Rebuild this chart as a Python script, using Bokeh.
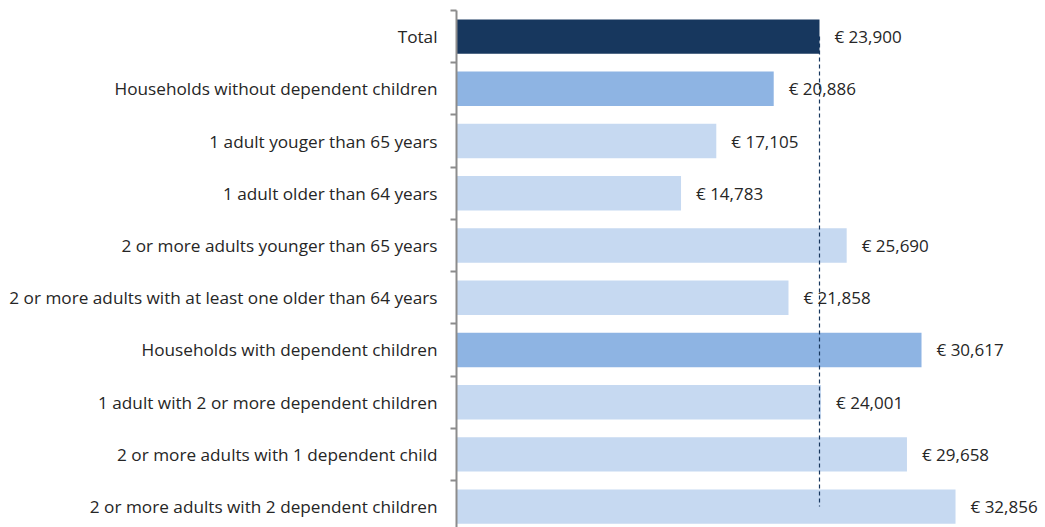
from bokeh.plotting import figure
from bokeh.models import ColumnDataSource, Range1d, FixedTicker, LabelSet
from bokeh.core.properties import value
from bokeh.embed import file_html
from bokeh.resources import INLINE

categories = [
    "Total",
    "Households without dependent children",
    "1 adult youger than 65 years",
    "1 adult older than 64 years",
    "2 or more adults younger than 65 years",
    "2 or more adults with at least one older than 64 years",
    "Households with dependent children",
    "1 adult with 2 or more dependent children",
    "2 or more adults with 1 dependent child",
    "2 or more adults with 2 dependent children",
]
values = [23900, 20886, 17105, 14783, 25690, 21858, 30617, 24001, 29658, 32856]
levels = ["total", "group", "sub", "sub", "sub", "sub", "group", "sub", "sub", "sub"]
reference_value = 23900

palette = {"total": "#17375E", "group": "#8EB4E3", "sub": "#C6D9F1"}

pos = list(range(len(categories)))
src = ColumnDataSource(dict(
    y=pos,
    v=values,
    color=[palette[l] for l in levels],
    lab=["€ {:,}".format(v) for v in values],
))

p = figure(width=1045, height=527, output_backend="svg", toolbar_location=None,
           x_range=Range1d(0, 38780), y_range=Range1d(9.4, -0.5),
           min_border_left=456, min_border_right=0, min_border_top=10, min_border_bottom=0)
p.outline_line_color = None
p.grid.visible = False
p.xaxis.visible = False

p.hbar(y="y", right="v", left=0, height=0.66, color="color", source=src, line_color=None)

p.segment(x0=[reference_value], x1=[reference_value], y0=[pos[0]], y1=[pos[-1]],
          line_color="#17375E", line_dash="4 3", line_width=1.2)

labels = LabelSet(x="v", y="y", text="lab", source=src, x_offset=15, text_align="left",
                  text_baseline="middle", text_font=value("Open Sans"),
                  text_font_size="17px", text_color="#262626")
p.add_layout(labels)

ax = p.yaxis[0]
ax.ticker = FixedTicker(ticks=pos, minor_ticks=[i - 0.5 for i in range(len(categories) + 1)])
ax.major_label_overrides = {i: c for i, c in zip(pos, categories)}
ax.major_tick_out = 0
ax.major_tick_in = 0
ax.minor_tick_out = 6
ax.minor_tick_in = 0
ax.minor_tick_line_color = "#8C8C8C"
ax.minor_tick_line_width = 2
ax.axis_line_color = "#8C8C8C"
ax.axis_line_width = 2
ax.major_label_standoff = 13
ax.major_label_text_font = "Open Sans"
ax.major_label_text_font_size = "17.2px"
ax.major_label_text_color = "#262626"

open("out.html", "w").write(file_html(p, INLINE))
